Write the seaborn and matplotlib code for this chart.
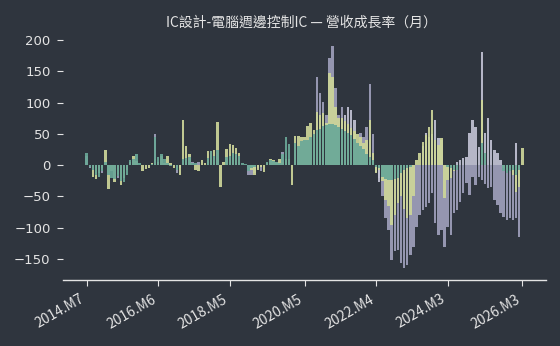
import matplotlib
matplotlib.use("Agg")
import matplotlib.pyplot as plt
import pandas as pd
import seaborn as sns

months = [f"{p.year}.M{p.month}" for p in pd.period_range("2014-07", "2026-03", freq="M")]

teal = [
    20, -3, -8, -15, -19, -10, 5, -15, -20, -22,
    -18, -25, -27, -16, 8, 9, 18, 3, 0, 0,
    0, 2, 45, 13, 18, 10, 4, -2, 0, -8,
    0, 10, 12, 13, 3, 3, 0, 0, 0, 12,
    22, 15, 24, 0, 0, 13, 15, 20, 18, 15,
    3, 2, -10, -5, -3, 0, 0, 0, 5, 8,
    6, 5, 4, 18, 45, 33, 0, 35, 30, 38,
    40, 40, 45, 50, 56, 58, 62, 64, 66, 66,
    64, 61, 58, 54, 51, 48, 42, 35, 30, 25,
    18, 13, 8, -3, -5, -19, -22, -24, -24, -22,
    -20, -13, -8, -5, -3, 0, 0, 0, 0, 0,
    0, 0, 0, 0, 0, 0, -3, -5, -8, -8,
    0, 0, 0, 0, 0, 0, 0, 35, 20, 0,
    0, 0, 0, 0, -10, -12, -10, -8, -15, -8,
    0]

yellow = [
    0, 0, -19, -22, -12, -5, 24, -38, -10, -27,
    -14, -32, -20, -8, 5, 14, 6, 0, -10, -7,
    -5, 4, 10, 5, 15, 4, 14, 3, -5, 0,
    -16, 72, 30, 17, 0, -8, -10, 8, 3, 23,
    23, 24, 69, -35, 5, 25, 34, 32, 28, 20,
    0, 0, 0, -8, -15, -8, -3, -11, 3, 9,
    8, 5, 10, 5, 10, 10, -32, 47, 46, 45,
    45, 62, 67, 56, 85, 80, 83, 67, 147, 141,
    93, 75, 75, 70, 65, 60, 55, 50, 45, 35,
    40, 72, 20, -13, -8, -25, -55, -65, -95, -80,
    -60, -50, -70, -85, -80, -50, 8, 19, 37, 48,
    61, 88, 40, 32, 43, -53, -24, -21, -10, 0,
    0, 0, 0, 0, 0, 0, 0, 104, 0, 0,
    0, 0, 0, 0, -5, -8, -5, -15, -43, -35,
    27]

lavender = [
    14, -4, 0, -10, 0, -12, 0, 0, 0, 0,
    -20, 0, 0, 0, 0, 0, 0, 0, 0, 0,
    0, 0, 50, 0, 0, 0, 0, 0, 0, -12,
    -5, 0, 0, 0, 5, 0, 5, 0, 0, 0,
    0, 0, 0, 0, 0, 0, 0, 0, 0, 0,
    0, 0, -15, -15, -12, -5, -10, 0, 0, 0,
    0, 0, 0, 21, 0, 0, 0, 0, 0, 0,
    0, 0, 0, 0, 141, 115, 101, 80, 171, 190,
    123, 80, 93, 0, 0, 0, 0, 0, 51, 45,
    61, 130, 50, 0, -20, -50, -85, -104, -152, -138,
    -135, -157, -165, -160, -144, -131, -99, -80, -72, -67,
    -60, -45, -93, -112, -104, -131, -99, -112, -77, -72,
    -59, -45, -29, -48, -19, -32, -19, -24, -30, -37,
    -35, -56, -64, -77, -83, -88, -85, -88, -85, -115,
    0]

pale = [
    0, 0, 0, 0, 0, 0, 0, 0, 0, 0,
    0, 0, 0, 0, 0, 0, 0, 0, 0, 0,
    0, 0, 0, 0, 0, 0, 0, 0, 0, 0,
    0, 0, 0, 0, 0, 0, 0, 0, 0, 0,
    0, 0, 0, 0, 0, 0, 0, 0, 0, 0,
    0, 0, 0, 0, 0, 0, 0, 0, 0, 0,
    0, 0, 0, 0, 0, 0, 0, 0, 0, 0,
    0, 0, 0, 0, 0, 0, 0, 0, 0, 0,
    0, 0, 72, 80, 93, 88, 72, 0, 0, 0,
    0, 0, 0, -11, -27, 0, 0, 0, 0, 0,
    0, 0, 0, 0, 0, 0, 0, 0, 30, 51,
    45, 50, 72, 43, 40, 0, 0, 0, 0, 5,
    8, 11, 13, 51, 72, 61, 29, 181, 51, 75,
    40, 24, 19, 8, 0, 0, 0, 0, 35, 0,
    0]

tick_labels = ["2014.M7", "2016.M6", "2018.M5", "2020.M5", "2022.M4", "2024.M3", "2026.M3"]
title = "IC設計-電腦週邊控制IC — 營收成長率（月）"

series = {"lavender": lavender, "pale": pale, "yellow": yellow, "teal": teal}
colors = {"lavender": "#9f9fbb", "pale": "#c2c2d4", "yellow": "#cdd699", "teal": "#6aa898"}

df = pd.concat(
    [pd.DataFrame({"month": months, "value": v, "series": k}) for k, v in series.items()],
    ignore_index=True,
)

bg = "#2f353e"
fg = "#e4e4e4"
sns.set_theme(style="dark", rc={
    "axes.facecolor": bg, "figure.facecolor": bg,
    "axes.edgecolor": fg, "text.color": fg,
    "xtick.color": fg, "ytick.color": fg,
})
plt.rcParams["font.family"] = ["DejaVu Sans", "Noto Sans CJK TC"]

fig = plt.figure(figsize=(5.6, 3.46), dpi=100)
ax = fig.add_axes([63 / 560, 1 - 279.6 / 346, (546 - 63) / 560, (279.6 - 35) / 346])

sns.barplot(data=df, x="month", y="value", hue="series", order=months,
            hue_order=list(series.keys()), palette=colors, dodge=False,
            saturation=1, errorbar=None, legend=False, width=0.8,
            linewidth=0, ax=ax, alpha=0.92)

ax.set_xlim(-7.6, len(months) - 1 + 7.6)
ax.set_ylim(-183, 208)
ax.set_yticks([-150, -100, -50, 0, 50, 100, 150, 200])
ax.set_xticks([months.index(t) for t in tick_labels])
ax.set_xticklabels(tick_labels, rotation=30, ha="right", rotation_mode="default",
                   fontsize=10, family=["Noto Sans CJK TC"])
ax.tick_params(axis="y", labelsize=9.5, length=4, width=0.8, left=True, pad=5)
ax.tick_params(axis="x", length=4, width=0.8, bottom=True, pad=5)
ax.set_xlabel("")
ax.set_ylabel("")
ax.grid(False)
for s in ["top", "right", "left"]:
    ax.spines[s].set_visible(False)
ax.spines["bottom"].set_color(fg)
ax.spines["bottom"].set_linewidth(1)

fig.text(301 / 560, 1 - 23 / 346, title, ha="center", va="center", fontsize=10,
         color=fg, family=["Noto Sans CJK TC", "DejaVu Sans"])

fig.savefig("out.png", dpi=100, facecolor=bg)
